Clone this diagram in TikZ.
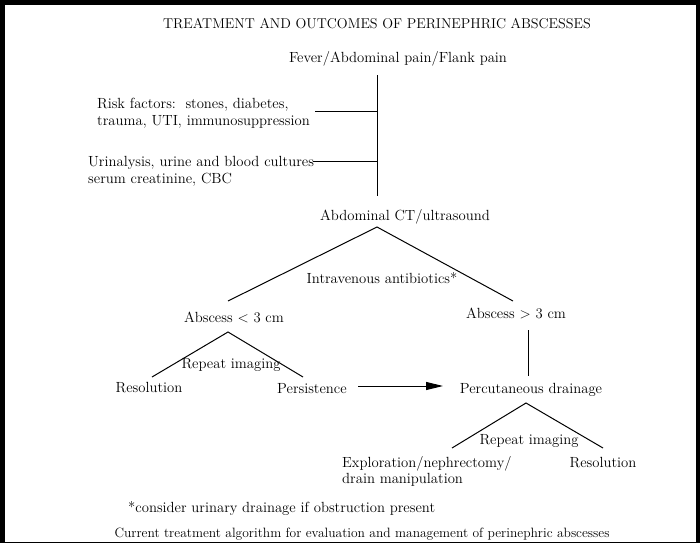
\documentclass[tikz,border=0pt]{standalone}
\usetikzlibrary{arrows.meta}
\begin{document}
\begin{tikzpicture}[x=1pt,y=-1pt,
  body/.style={inner sep=0pt,font=\fontsize{14.7}{17}\selectfont},
  titlefont/.style={inner sep=0pt,font=\fontsize{14.2}{16}\selectfont},
  capfont/.style={inner sep=0pt,font=\fontsize{13.5}{16}\selectfont},
  conn/.style={line width=1pt},
  thin/.style={line width=0.7pt}]
% frame
\fill[black] (0,0) rectangle (700,543);
\fill[white] (5,5) rectangle (696,542);
\useasboundingbox (0,0) rectangle (700,543);
% texts
\node[titlefont,anchor=base] (title) at (377,29) {TREATMENT AND OUTCOMES OF PERINEPHRIC ABSCESSES};
\node[body,anchor=base] (fever) at (398,62) {Fever/Abdominal pain/Flank pain};
\node[body,anchor=base west] (risk1) at (97,108) {Risk factors:\ \ stones, diabetes,};
\node[body,anchor=base west] (risk2) at (97,125) {trauma, UTI, immunosuppression};
\node[body,anchor=base west] (uri1) at (88,166) {Urinalysis, urine and blood cultures};
\node[body,anchor=base west] (uri2) at (88,183) {serum creatinine, CBC};
\node[body,anchor=base] (ct) at (405,220) {Abdominal CT/ultrasound};
\node[body,anchor=base] (iv) at (382,283) {Intravenous antibiotics*};
\node[body,anchor=base] (small) at (234,322) {Abscess < 3 cm};
\node[body,anchor=base] (large) at (516,318) {Abscess > 3 cm};
\node[body,anchor=base] (rep1) at (231,368) {Repeat imaging};
\node[body,anchor=base] (res1) at (149,392) {Resolution};
\node[body,anchor=base] (pers) at (312,393) {Persistence};
\node[body,anchor=base] (perc) at (531,393) {Percutaneous drainage};
\node[body,anchor=base] (rep2) at (529,444) {Repeat imaging};
\node[body,anchor=base west] (expl1) at (342,467) {Exploration/nephrectomy/};
\node[body,anchor=base west] (expl2) at (342,483) {drain manipulation};
\node[body,anchor=base] (res2) at (603,467) {Resolution};
\node[body,anchor=base west] (note) at (128,512) {*consider urinary drainage if obstruction present};
\node[capfont,anchor=base] (cap) at (362,537) {Current treatment algorithm for evaluation and management of perinephric abscesses};
% coordinates
\coordinate (vtop) at (377,75);
\coordinate (vbot) at (377,196);
\coordinate (riskend) at (315,111);
\coordinate (uriend) at (313,161);
\coordinate (apex1) at (377,227);
\coordinate (l1) at (228,301);
\coordinate (r1) at (513,301);
\coordinate (apex2) at (228,332);
\coordinate (l2) at (152,377);
\coordinate (r2) at (303,377);
\coordinate (apex3) at (526,403);
\coordinate (l3) at (452,448);
\coordinate (r3) at (603,448);
\coordinate (vr1) at (528,330);
\coordinate (vr2) at (528,376);
\coordinate (a1) at (358,386);
\coordinate (a2) at (443,386);
% connectors
\draw[conn] (vtop) -- (vbot);
\draw[conn] (riskend) -- (riskend -| vtop);
\draw[conn] (uriend) -- (uriend -| vtop);
\draw[conn] (l1) -- (apex1) -- (r1);
\draw[conn] (l2) -- (apex2) -- (r2);
\draw[conn] (l3) -- (apex3) -- (r3);
\draw[thin] (vr1) -- (vr2);
\draw[conn,-{Triangle[length=17pt,width=8pt]}] (a1) -- (a2);
\end{tikzpicture}
\end{document}
